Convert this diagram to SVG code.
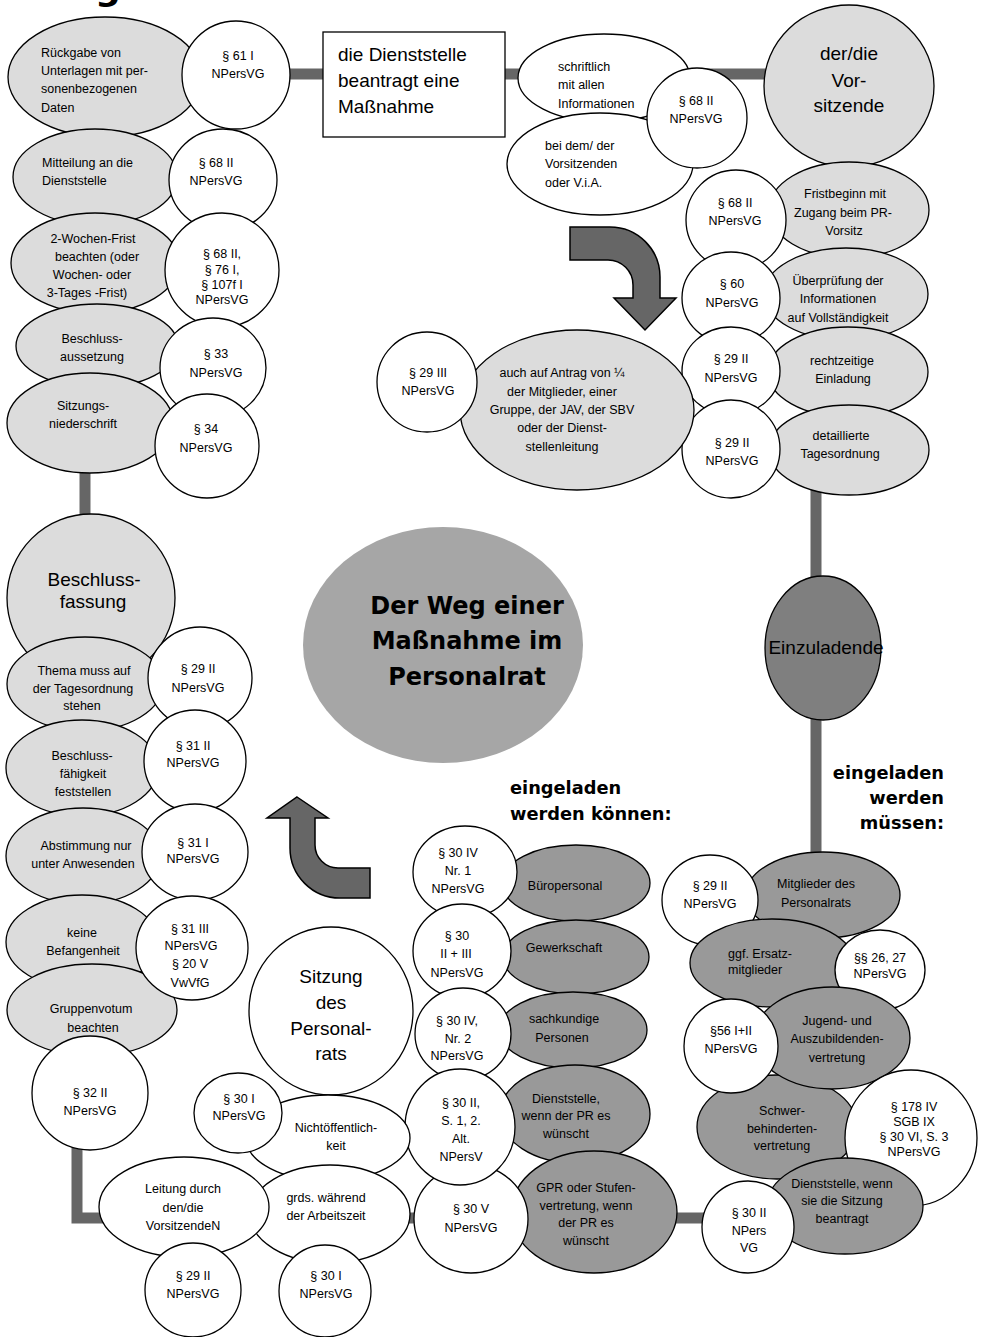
<svg xmlns="http://www.w3.org/2000/svg" width="982" height="1337" viewBox="0 0 982 1337">
<style>
.l{fill:#dcdcdc;stroke:#000;stroke-width:1.3}
.w{fill:#fff;stroke:#000;stroke-width:1.3}
.d{fill:#999;stroke:#000;stroke-width:1.3}
.dd{fill:#7f7f7f;stroke:#000;stroke-width:1.3}
.c{fill:#a6a6a6;stroke:none}
.arrow{fill:#666;stroke:#000;stroke-width:1.5}
text{font-family:"Liberation Sans",Arial,sans-serif;fill:#000}
.s{font-size:12.5px;text-anchor:middle}
.sl{font-size:12.5px}
.b{font-size:19px;text-anchor:middle}
.h{font-family:"DejaVu Sans",Verdana,sans-serif;font-weight:bold}
</style>
<rect width="982" height="1337" fill="#fff"/>
<text class="h" x="95" y="0" font-size="36">g</text>

<!-- connectors -->
<g id="connectors" fill="none" stroke="#666" stroke-width="11">
  <line x1="285" y1="74" x2="770" y2="74"/>
  <line x1="816" y1="485" x2="816" y2="865"/>
  <line x1="85" y1="465" x2="85" y2="520"/>
  <polyline points="77,1145 77,1218 710,1218"/>
</g>

<!-- left column, top part -->
<g id="n-rueckgabe"><ellipse class="l" cx="105" cy="77" rx="97" ry="60"/>
<text class="sl"><tspan x="41" y="57">Rückgabe von</tspan><tspan x="41" y="75">Unterlagen mit per-</tspan><tspan x="41" y="93">sonenbezogenen</tspan><tspan x="41" y="112">Daten</tspan></text></g>
<g id="n-p61"><ellipse class="w" cx="236" cy="75" rx="54" ry="54"/>
<text class="s"><tspan x="238" y="60">§ 61 I</tspan><tspan x="238" y="78">NPersVG</tspan></text></g>
<g id="n-mitteilung"><ellipse class="l" cx="95" cy="177" rx="82" ry="48"/>
<text class="sl"><tspan x="42" y="167">Mitteilung an die</tspan><tspan x="42" y="185">Dienststelle</tspan></text></g>
<g id="n-p68a"><ellipse class="w" cx="223" cy="180" rx="54" ry="51"/>
<text class="s"><tspan x="216" y="167">§ 68 II</tspan><tspan x="216" y="185">NPersVG</tspan></text></g>
<g id="n-frist"><ellipse class="l" cx="95" cy="263" rx="84" ry="50"/>
<text class="s"><tspan x="93" y="243">2-Wochen-Frist</tspan><tspan x="97" y="261">beachten (oder</tspan><tspan x="92" y="279">Wochen- oder</tspan><tspan x="87" y="297">3-Tages -Frist)</tspan></text></g>
<g id="n-p68b"><ellipse class="w" cx="222" cy="270" rx="57" ry="57"/>
<text class="s" font-size="11.5"><tspan x="222" y="258">§ 68 II,</tspan><tspan x="222" y="274">§ 76 I,</tspan><tspan x="222" y="289">§ 107f I</tspan><tspan x="222" y="304">NPersVG</tspan></text></g>
<g id="n-aussetzung"><ellipse class="l" cx="97" cy="346" rx="81" ry="42"/>
<text class="s"><tspan x="92" y="343">Beschluss-</tspan><tspan x="92" y="361">aussetzung</tspan></text></g>
<g id="n-p33"><ellipse class="w" cx="213" cy="368" rx="53" ry="50"/>
<text class="s"><tspan x="216" y="358">§ 33</tspan><tspan x="216" y="377">NPersVG</tspan></text></g>
<g id="n-niederschrift"><ellipse class="l" cx="90" cy="423" rx="83" ry="50"/>
<text class="s"><tspan x="83" y="410">Sitzungs-</tspan><tspan x="83" y="428">niederschrift</tspan></text></g>
<g id="n-p34"><ellipse class="w" cx="207" cy="446" rx="52" ry="52"/>
<text class="s"><tspan x="206" y="433">§ 34</tspan><tspan x="206" y="452">NPersVG</tspan></text></g>

<!-- top row -->
<g id="n-antrag"><rect class="w" x="323" y="32" width="182" height="105"/>
<text font-size="19"><tspan x="338" y="61">die Dienststelle</tspan><tspan x="338" y="87">beantragt eine</tspan><tspan x="338" y="113">Maßnahme</tspan></text></g>
<g id="n-schriftlich"><ellipse class="w" cx="604" cy="78" rx="86" ry="44"/>
<text class="sl" font-size="12"><tspan x="558" y="71">schriftlich</tspan><tspan x="558" y="89">mit allen</tspan><tspan x="558" y="108">Informationen</tspan></text></g>
<g id="n-beidem"><ellipse class="w" cx="600" cy="164" rx="93" ry="51"/>
<text class="sl" font-size="12"><tspan x="545" y="150">bei dem/ der</tspan><tspan x="545" y="168">Vorsitzenden</tspan><tspan x="545" y="187">oder V.i.A.</tspan></text></g>
<g id="n-p68c"><ellipse class="w" cx="697" cy="118" rx="50" ry="50"/>
<text class="s" font-size="12"><tspan x="696" y="105">§ 68 II</tspan><tspan x="696" y="123">NPersVG</tspan></text></g>
<g id="n-vorsitz"><ellipse class="l" cx="849" cy="86" rx="85" ry="81"/>
<text class="b"><tspan x="849" y="60">der/die</tspan><tspan x="849" y="87">Vor-</tspan><tspan x="849" y="112">sitzende</tspan></text></g>

<!-- right column -->
<g id="n-fristbeginn"><ellipse class="l" cx="849" cy="210" rx="80" ry="48"/>
<text class="s" font-size="12"><tspan x="845" y="198">Fristbeginn mit</tspan><tspan x="843" y="217">Zugang beim PR-</tspan><tspan x="844" y="235">Vorsitz</tspan></text></g>
<g id="n-p68d"><ellipse class="w" cx="736" cy="220" rx="50" ry="50"/>
<text class="s" font-size="12"><tspan x="735" y="207">§ 68 II</tspan><tspan x="735" y="225">NPersVG</tspan></text></g>
<g id="n-pruefung"><ellipse class="l" cx="846" cy="294" rx="82" ry="46"/>
<text class="s" font-size="12"><tspan x="838" y="285">Überprüfung der</tspan><tspan x="838" y="303">Informationen</tspan><tspan x="838" y="322">auf Vollständigkeit</tspan></text></g>
<g id="n-p60"><ellipse class="w" cx="731" cy="298" rx="49" ry="46"/>
<text class="s" font-size="12"><tspan x="732" y="288">§ 60</tspan><tspan x="732" y="307">NPersVG</tspan></text></g>
<g id="n-einladung"><ellipse class="l" cx="848" cy="372" rx="80" ry="45"/>
<text class="s" font-size="12"><tspan x="842" y="365">rechtzeitige</tspan><tspan x="843" y="383">Einladung</tspan></text></g>
<g id="n-p29a"><ellipse class="w" cx="731" cy="371" rx="49" ry="44"/>
<text class="s" font-size="12"><tspan x="731" y="363">§ 29 II</tspan><tspan x="731" y="382">NPersVG</tspan></text></g>
<g id="n-tagesordnung"><ellipse class="l" cx="849" cy="450" rx="80" ry="45"/>
<text class="s" font-size="12"><tspan x="841" y="440">detaillierte</tspan><tspan x="840" y="458">Tagesordnung</tspan></text></g>
<g id="n-p29b"><ellipse class="w" cx="731" cy="449" rx="49" ry="49"/>
<text class="s" font-size="12"><tspan x="732" y="447">§ 29 II</tspan><tspan x="732" y="465">NPersVG</tspan></text></g>

<!-- request by others -->
<g id="n-antragvon"><ellipse class="l" cx="577" cy="410" rx="117" ry="80"/>
<text class="s" font-size="10.8"><tspan x="562" y="377">auch auf Antrag von ¼</tspan><tspan x="562" y="396">der Mitglieder, einer</tspan><tspan x="562" y="414">Gruppe, der JAV, der SBV</tspan><tspan x="562" y="432">oder der Dienst-</tspan><tspan x="562" y="451">stellenleitung</tspan></text></g>
<g id="n-p29c"><ellipse class="w" cx="427" cy="382" rx="50" ry="50"/>
<text class="s" font-size="12"><tspan x="428" y="377">§ 29 III</tspan><tspan x="428" y="395">NPersVG</tspan></text></g>

<g id="arrow-down"><path class="arrow" d="M570,227 L610,227 A50,50 0 0 1 660,277 L660,298 L676,298 L645,330 L614,298 L633,298 L633,285 A25,25 0 0 0 608,260 L570,260 Z"/></g>

<!-- centre -->
<g id="n-titel"><ellipse class="c" cx="443" cy="645" rx="140" ry="118"/>
<text class="h" font-size="24" text-anchor="middle"><tspan x="467" y="614">Der Weg einer</tspan><tspan x="467" y="649">Maßnahme im</tspan><tspan x="467" y="685">Personalrat</tspan></text></g>

<g id="n-einzuladende"><ellipse class="dd" cx="823" cy="648" rx="58" ry="72"/>
<text class="b" font-size="18" x="826" y="654">Einzuladende</text></g>

<text class="h" font-size="17.8" text-anchor="end"><tspan x="944" y="779">eingeladen</tspan><tspan x="944" y="804">werden</tspan><tspan x="944" y="829">müssen:</tspan></text>
<text class="h" font-size="17.8"><tspan x="510" y="794">eingeladen</tspan><tspan x="510" y="820">werden können:</tspan></text>

<!-- left column, lower part -->
<g id="n-beschlussfassung"><ellipse class="l" cx="91" cy="598" rx="84" ry="84"/>
<text class="b"><tspan x="94" y="586">Beschluss-</tspan><tspan x="93" y="608">fassung</tspan></text></g>
<g id="n-thema"><ellipse class="l" cx="85" cy="684" rx="78" ry="47"/>
<text class="s" font-size="12"><tspan x="84" y="675">Thema muss auf</tspan><tspan x="83" y="693">der Tagesordnung</tspan><tspan x="82" y="710">stehen</tspan></text></g>
<g id="n-p29d"><ellipse class="w" cx="200" cy="678" rx="52" ry="51"/>
<text class="s" font-size="12"><tspan x="198" y="673">§ 29 II</tspan><tspan x="198" y="692">NPersVG</tspan></text></g>
<g id="n-beschlussfaehig"><ellipse class="l" cx="82" cy="768" rx="76" ry="48"/>
<text class="s" font-size="12"><tspan x="82" y="760">Beschluss-</tspan><tspan x="83" y="778">fähigkeit</tspan><tspan x="83" y="796">feststellen</tspan></text></g>
<g id="n-p31a"><ellipse class="w" cx="195" cy="761" rx="51" ry="51"/>
<text class="s" font-size="12"><tspan x="193" y="750">§ 31 II</tspan><tspan x="193" y="767">NPersVG</tspan></text></g>
<g id="n-abstimmung"><ellipse class="l" cx="83" cy="856" rx="77" ry="48"/>
<text class="s" font-size="12"><tspan x="86" y="850">Abstimmung nur</tspan><tspan x="83" y="868">unter Anwesenden</tspan></text></g>
<g id="n-p31b"><ellipse class="w" cx="195" cy="852" rx="53" ry="48"/>
<text class="s" font-size="12"><tspan x="193" y="847">§ 31 I</tspan><tspan x="193" y="863">NPersVG</tspan></text></g>
<g id="n-befangenheit"><ellipse class="l" cx="82" cy="942" rx="76" ry="47"/>
<text class="s" font-size="12"><tspan x="82" y="937">keine</tspan><tspan x="83" y="955">Befangenheit</tspan></text></g>
<g id="n-gruppenvotum"><ellipse class="l" cx="92" cy="1010" rx="85" ry="46"/>
<text class="s" font-size="12"><tspan x="91" y="1013">Gruppenvotum</tspan><tspan x="93" y="1032">beachten</tspan></text></g>
<g id="n-p31c"><ellipse class="w" cx="192" cy="948" rx="56" ry="52"/>
<text class="s" font-size="12"><tspan x="190" y="933">§ 31 III</tspan><tspan x="191" y="950">NPersVG</tspan><tspan x="190" y="968">§ 20 V</tspan><tspan x="190" y="987">VwVfG</tspan></text></g>
<g id="n-p32"><ellipse class="w" cx="90" cy="1093" rx="58" ry="57"/>
<text class="s" font-size="12"><tspan x="90" y="1097">§ 32 II</tspan><tspan x="90" y="1115">NPersVG</tspan></text></g>

<g id="arrow-up"><path class="arrow" d="M297,797 L328,818 L315,818 L315,845 A23,23 0 0 0 338,868 L370,868 L370,898 L340,898 A50,50 0 0 1 290,848 L290,818 L267,818 Z"/></g>

<!-- meeting -->
<g id="n-sitzung"><ellipse class="w" cx="331" cy="1011" rx="82" ry="84"/>
<text class="b"><tspan x="331" y="983">Sitzung</tspan><tspan x="331" y="1009">des</tspan><tspan x="331" y="1035">Personal-</tspan><tspan x="331" y="1060">rats</tspan></text></g>

<!-- may be invited -->
<g id="n-buero"><ellipse class="d" cx="576" cy="883" rx="74" ry="38"/>
<text class="s" font-size="12" x="565" y="890">Büropersonal</text></g>
<g id="n-p30a"><ellipse class="w" cx="465" cy="872" rx="52" ry="46"/>
<text class="s" font-size="12"><tspan x="458" y="857">§ 30 IV</tspan><tspan x="458" y="875">Nr. 1</tspan><tspan x="458" y="893">NPersVG</tspan></text></g>
<g id="n-gewerkschaft"><ellipse class="d" cx="576" cy="957" rx="73" ry="37"/>
<text class="s" font-size="12" x="564" y="952">Gewerkschaft</text></g>
<g id="n-p30b"><ellipse class="w" cx="462" cy="951" rx="49" ry="47"/>
<text class="s" font-size="12"><tspan x="457" y="940">§ 30</tspan><tspan x="456" y="958">II + III</tspan><tspan x="457" y="977">NPersVG</tspan></text></g>
<g id="n-sachkundige"><ellipse class="d" cx="573" cy="1030" rx="74" ry="38"/>
<text class="s" font-size="12"><tspan x="564" y="1023">sachkundige</tspan><tspan x="562" y="1042">Personen</tspan></text></g>
<g id="n-p30c"><ellipse class="w" cx="463" cy="1034" rx="48" ry="46"/>
<text class="s" font-size="12"><tspan x="457" y="1025">§ 30 IV,</tspan><tspan x="458" y="1043">Nr. 2</tspan><tspan x="457" y="1060">NPersVG</tspan></text></g>
<g id="n-dienststelle-pr"><ellipse class="d" cx="575" cy="1114" rx="75" ry="49"/>
<text class="s" font-size="12"><tspan x="566" y="1103">Dienststelle,</tspan><tspan x="566" y="1120">wenn der PR es</tspan><tspan x="566" y="1138">wünscht</tspan></text></g>
<g id="n-gpr"><ellipse class="d" cx="594" cy="1212" rx="83" ry="61"/>
<text class="s" font-size="12"><tspan x="586" y="1192">GPR oder Stufen-</tspan><tspan x="586" y="1210">vertretung, wenn</tspan><tspan x="586" y="1227">der PR es</tspan><tspan x="586" y="1245">wünscht</tspan></text></g>
<g id="n-p30e"><ellipse class="w" cx="471" cy="1219" rx="57" ry="54"/>
<text class="s" font-size="12"><tspan x="471" y="1213">§ 30 V</tspan><tspan x="471" y="1232">NPersVG</tspan></text></g>
<g id="n-p30d"><ellipse class="w" cx="460" cy="1127" rx="55" ry="58"/>
<text class="s" font-size="12"><tspan x="461" y="1107">§ 30 II,</tspan><tspan x="461" y="1125">S. 1, 2.</tspan><tspan x="461" y="1143">Alt.</tspan><tspan x="461" y="1161">NPersV</tspan></text></g>

<!-- must be invited -->
<g id="n-mitglieder"><ellipse class="d" cx="823" cy="895" rx="77" ry="43"/>
<text class="s" font-size="12"><tspan x="816" y="888">Mitglieder des</tspan><tspan x="816" y="907">Personalrats</tspan></text></g>
<g id="n-p29e"><ellipse class="w" cx="710" cy="900" rx="48" ry="45"/>
<text class="s" font-size="12"><tspan x="710" y="890">§ 29 II</tspan><tspan x="710" y="908">NPersVG</tspan></text></g>
<g id="n-ersatz"><ellipse class="d" cx="772" cy="963" rx="82" ry="44"/>
<text class="sl" font-size="12"><tspan x="728" y="958">ggf. Ersatz-</tspan><tspan x="728" y="974">mitglieder</tspan></text></g>
<g id="n-p26"><ellipse class="w" cx="880" cy="970" rx="45" ry="40"/>
<text class="s" font-size="11.5"><tspan x="880" y="962">§§ 26, 27</tspan><tspan x="880" y="978">NPersVG</tspan></text></g>
<g id="n-schwer"><ellipse class="d" cx="777" cy="1127" rx="80" ry="52"/>
<text class="s" font-size="12"><tspan x="782" y="1115">Schwer-</tspan><tspan x="782" y="1133">behinderten-</tspan><tspan x="782" y="1150">vertretung</tspan></text></g>
<g id="n-jav"><ellipse class="d" cx="832" cy="1038" rx="78" ry="51"/>
<text class="s" font-size="12"><tspan x="837" y="1025">Jugend- und</tspan><tspan x="837" y="1043">Auszubildenden-</tspan><tspan x="837" y="1062">vertretung</tspan></text></g>
<g id="n-p56"><ellipse class="w" cx="731" cy="1046" rx="47" ry="47"/>
<text class="s" font-size="12"><tspan x="731" y="1035">§56 I+II</tspan><tspan x="731" y="1053">NPersVG</tspan></text></g>
<g id="n-p178"><ellipse class="w" cx="911" cy="1138" rx="66" ry="68"/>
<text class="s" font-size="11"><tspan x="914" y="1111">§ 178 IV</tspan><tspan x="914" y="1126">SGB IX</tspan><tspan x="914" y="1141">§ 30 VI, S. 3</tspan><tspan x="914" y="1156">NPersVG</tspan></text></g>
<g id="n-dienststelle-antrag"><ellipse class="d" cx="845" cy="1206" rx="78" ry="48"/>
<text class="s" font-size="12"><tspan x="842" y="1188">Dienststelle, wenn</tspan><tspan x="842" y="1205">sie die Sitzung</tspan><tspan x="842" y="1223">beantragt</tspan></text></g>
<g id="n-p30f"><ellipse class="w" cx="748" cy="1227" rx="46" ry="46"/>
<text class="s" font-size="12"><tspan x="749" y="1217">§ 30 II</tspan><tspan x="749" y="1235">NPers</tspan><tspan x="749" y="1252">VG</tspan></text></g>

<!-- meeting rules, bottom -->
<g id="n-nichtoeffentlich"><ellipse class="w" cx="328" cy="1138" rx="82" ry="43"/>
<text class="s" font-size="12"><tspan x="336" y="1132">Nichtöffentlich-</tspan><tspan x="336" y="1150">keit</tspan></text></g>
<g id="n-p30g"><ellipse class="w" cx="238" cy="1113" rx="44" ry="40"/>
<text class="s" font-size="12"><tspan x="239" y="1103">§ 30 I</tspan><tspan x="239" y="1120">NPersVG</tspan></text></g>
<g id="n-arbeitszeit"><ellipse class="w" cx="330" cy="1214" rx="80" ry="49"/>
<text class="s" font-size="12"><tspan x="326" y="1202">grds. während</tspan><tspan x="326" y="1220">der Arbeitszeit</tspan></text></g>
<g id="n-leitung"><ellipse class="w" cx="184" cy="1207" rx="85" ry="50"/>
<text class="s" font-size="12"><tspan x="183" y="1193">Leitung durch</tspan><tspan x="183" y="1212">den/die</tspan><tspan x="183" y="1230">VorsitzendeN</tspan></text></g>
<g id="n-p29f"><ellipse class="w" cx="193" cy="1290" rx="48" ry="47"/>
<text class="s" font-size="12"><tspan x="193" y="1280">§ 29 II</tspan><tspan x="193" y="1298">NPersVG</tspan></text></g>
<g id="n-p30h"><ellipse class="w" cx="325" cy="1291" rx="46" ry="46"/>
<text class="s" font-size="12"><tspan x="326" y="1280">§ 30 I</tspan><tspan x="326" y="1298">NPersVG</tspan></text></g>
</svg>
